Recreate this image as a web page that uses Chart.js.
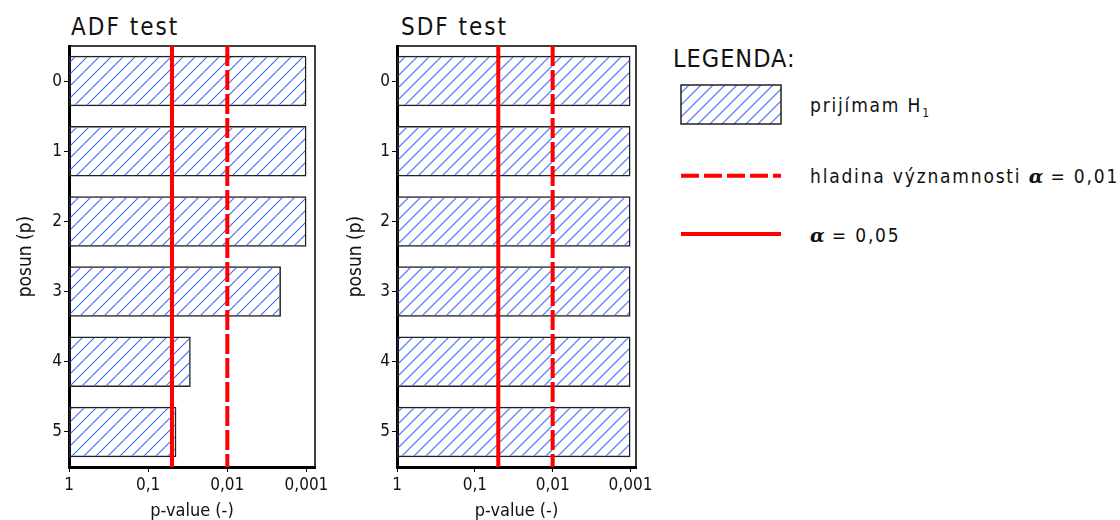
<!DOCTYPE html>
<html>
<head>
<meta charset="utf-8">
<script src="https://cdn.jsdelivr.net/npm/chart.js@4.4.1/dist/chart.umd.min.js"></script>
<style>
  body { margin: 0; background: #fff; }
  #wrap { position: relative; width: 1120px; height: 520px; overflow: hidden;
          font-family: 'DejaVu Sans Condensed', 'DejaVu Sans', sans-serif; color: #111; }
  canvas { position: absolute; top: 0; }
  .title { position: absolute; font-size: 24px; line-height: 24px; letter-spacing: 2px; white-space: nowrap; }
  .leg { position: absolute; font-size: 19px; line-height: 19px; letter-spacing: 1.8px; white-space: nowrap; }
  .leg sub { font-size: 12px; line-height: 0; vertical-align: -5px; }
  .alpha { font-family: 'DejaVu Serif', 'Liberation Serif', serif; font-weight: bold; font-style: italic; letter-spacing: 0; }
</style>
</head>
<body>
<div id="wrap">
  <div class="title" style="left:71px; top:15px">ADF test</div>
  <div class="title" style="left:401px; top:15px">SDF test</div>
  <canvas id="adf" width="330" height="520" style="left:0"></canvas>
  <canvas id="sdf" width="330" height="520" style="left:330px"></canvas>

  <div class="title" style="left:673px; top:46px; font-size:25px; line-height:25px; letter-spacing:1px">LEGENDA:</div>
  <canvas id="legend" width="130" height="170" style="left:670px; top:80px"></canvas>
  <div class="leg" style="left:810px; top:96px">prijímam H<sub>1</sub></div>
  <div class="leg" style="left:810px; top:167px">hladina významnosti <span class="alpha">α</span> = 0,01</div>
  <div class="leg" style="left:810px; top:226px"><span class="alpha">α</span> = 0,05</div>
</div>

<script>
// data
const lags = ['0', '1', '2', '3', '4', '5'];
const adfP = [0.001, 0.001, 0.001, 0.0021, 0.029, 0.044];
const sdfP = [0.001, 0.001, 0.001, 0.001, 0.001, 0.001];
const xTicks = [1, 0.1, 0.01, 0.001];
const xTickLabels = ['1', '0,1', '0,01', '0,001'];
const alphaSolid = 0.05;
const alphaDashed = 0.01;

const FONT = "'DejaVu Sans Condensed', 'DejaVu Sans', sans-serif";
const RED = '#ff0000';
const HATCH = '#3d6bff';

Chart.defaults.font.family = FONT;
Chart.defaults.color = '#111';

function hatchPattern(ctx) {
  const c = document.createElement('canvas');
  c.width = c.height = 12;
  const g = c.getContext('2d');
  g.strokeStyle = HATCH;
  g.lineWidth = 1.1;
  g.beginPath();
  g.moveTo(0, 12); g.lineTo(12, 0);
  g.moveTo(-6, 6); g.lineTo(6, -6);
  g.moveTo(6, 18); g.lineTo(18, 6);
  g.stroke();
  return ctx.createPattern(c, 'repeat');
}

// top/right frame + significance levels
const levelsPlugin = {
  id: 'levels',
  afterDatasetsDraw(chart) {
    const { ctx, chartArea: { left, right, top, bottom }, scales: { x } } = chart;
    ctx.save();
    ctx.strokeStyle = '#000';
    ctx.lineWidth = 1.5;
    ctx.beginPath();
    ctx.moveTo(left, top);
    ctx.lineTo(right, top);
    ctx.lineTo(right, bottom);
    ctx.stroke();

    ctx.strokeStyle = RED;
    ctx.lineWidth = 4;
    const xs = x.getPixelForValue(alphaSolid);
    ctx.beginPath(); ctx.moveTo(xs, top); ctx.lineTo(xs, bottom); ctx.stroke();
    const xd = x.getPixelForValue(alphaDashed);
    ctx.setLineDash([20, 4]);
    ctx.beginPath(); ctx.moveTo(xd, top); ctx.lineTo(xd, bottom); ctx.stroke();
    ctx.restore();
  }
};

function makeChart(id, pvals, yWidth, padRight, xMin) {
  const ctx = document.getElementById(id).getContext('2d');
  return new Chart(ctx, {
    type: 'bar',
    data: {
      labels: lags,
      datasets: [{
        data: pvals.map(p => [1, p]),
        backgroundColor: hatchPattern(ctx),
        borderColor: '#222',
        borderWidth: 1.5,
        borderSkipped: false,
        barPercentage: 0.72,
        categoryPercentage: 1
      }]
    },
    options: {
      indexAxis: 'y',
      responsive: false,
      animation: false,
      events: [],
      layout: { padding: { top: 46, right: padRight, left: 0, bottom: 0 } },
      plugins: { legend: { display: false }, tooltip: { enabled: false } },
      scales: {
        x: {
          type: 'logarithmic',
          reverse: true,
          min: xMin,
          max: 1,
          z: 1,
          afterBuildTicks: s => { s.ticks = xTicks.map(v => ({ value: v })); },
          afterFit: s => {
            s.height = 53;
            s.paddingLeft = 0; s.paddingRight = 0; s.paddingTop = 0; s.paddingBottom = 0;
          },
          border: { display: true, color: '#000', width: 3 },
          grid: { drawOnChartArea: false, tickLength: 5, color: '#000', tickWidth: 1 },
          ticks: {
            autoSkip: false, maxRotation: 0, padding: 3,
            font: { size: 17 }, color: '#111',
            callback: v => xTickLabels[xTicks.indexOf(v)]
          },
          title: {
            display: true, text: 'p-value (-)',
            font: { size: 18 }, color: '#111',
            padding: { top: 0, bottom: -2 }
          }
        },
        y: {
          type: 'category',
          offset: true,
          z: 1,
          afterFit: s => {
            s.width = yWidth;
            s.paddingLeft = 0; s.paddingRight = 0; s.paddingTop = 0; s.paddingBottom = 0;
          },
          border: { display: true, color: '#000', width: 3 },
          grid: { offset: false, drawOnChartArea: false, tickLength: 5, color: '#000', tickWidth: 1 },
          ticks: { padding: 2, font: { size: 17 }, color: '#111' },
          title: {
            display: true, text: 'posun (p)',
            font: { size: 19 }, color: '#111',
            padding: { top: 15, bottom: 0 }
          }
        }
      }
    },
    plugins: [levelsPlugin]
  });
}

makeChart('adf', adfP, 69, 15, 0.00078);
makeChart('sdf', sdfP, 67, 24, 0.00085);

// legend symbols
const lg = document.getElementById('legend').getContext('2d');
lg.fillStyle = hatchPattern(lg);
lg.fillRect(11, 5, 100, 39);
lg.strokeStyle = '#222';
lg.lineWidth = 1.5;
lg.strokeRect(11, 5, 100, 39);
lg.strokeStyle = RED;
lg.lineWidth = 4;
lg.setLineDash([18, 5]);
lg.beginPath(); lg.moveTo(11, 95.7); lg.lineTo(111, 95.7); lg.stroke();
lg.setLineDash([]);
lg.beginPath(); lg.moveTo(11, 154); lg.lineTo(111, 154); lg.stroke();
</script>
</body>
</html>
